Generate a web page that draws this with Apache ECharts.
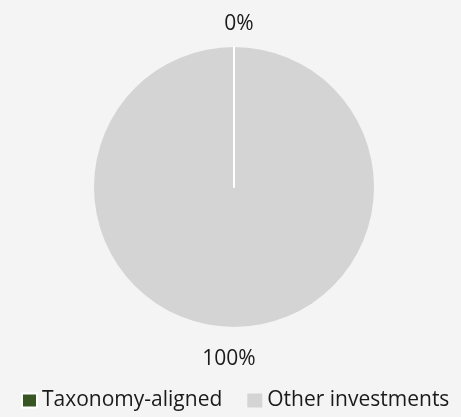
<!DOCTYPE html>
<html><head><meta charset="utf-8">
<script src="https://cdn.jsdelivr.net/npm/echarts@6/dist/echarts.min.js"></script>
<style>html,body{margin:0;padding:0;background:#f4f4f4;}#c{width:461px;height:417px;}</style>
</head><body><div id="c"></div>
<script>
var categories = ["Taxonomy-aligned", "Other investments"];
var values = [0, 100];
var colors = ["#375623", "#d4d4d4"];
// draw order reversed so the 0% slice's white edge sits on top of the full slice
var order = [1, 0];
var chart = echarts.init(document.getElementById('c'), null, {renderer: 'canvas'});
chart.setOption({
  backgroundColor: '#f4f4f4',
  animation: false,
  legend: {
    bottom: 1, left: 16,
    itemWidth: 15, itemHeight: 14, itemGap: 25, icon: 'rect',
    textStyle: {fontFamily: 'Open Sans', fontSize: 21, color: '#1a1a1a'},
    data: categories
  },
  series: [{
    type: 'pie',
    center: [234, 187], radius: 140,
    startAngle: 90, clockwise: true,
    stillShowZeroSum: true,
    avoidLabelOverlap: false,
    label: {show: true, position: 'outside', formatter: '{d}%', fontFamily: 'Open Sans', fontSize: 21, color: '#1a1a1a'},
    labelLine: {show: false, length: 23, length2: 0},
    labelLayout: function (p) {
      return {align: 'center', verticalAlign: 'middle', dy: p.dataIndex === 0 ? 9 : 0};
    },
    data: order.map(function (i) {
      return {
        name: categories[i], value: values[i],
        itemStyle: values[i] === 0
          ? {color: colors[i], borderColor: '#ffffff', borderWidth: 2}
          : {color: colors[i], borderWidth: 0}
      };
    })
  }]
});
</script></body></html>
